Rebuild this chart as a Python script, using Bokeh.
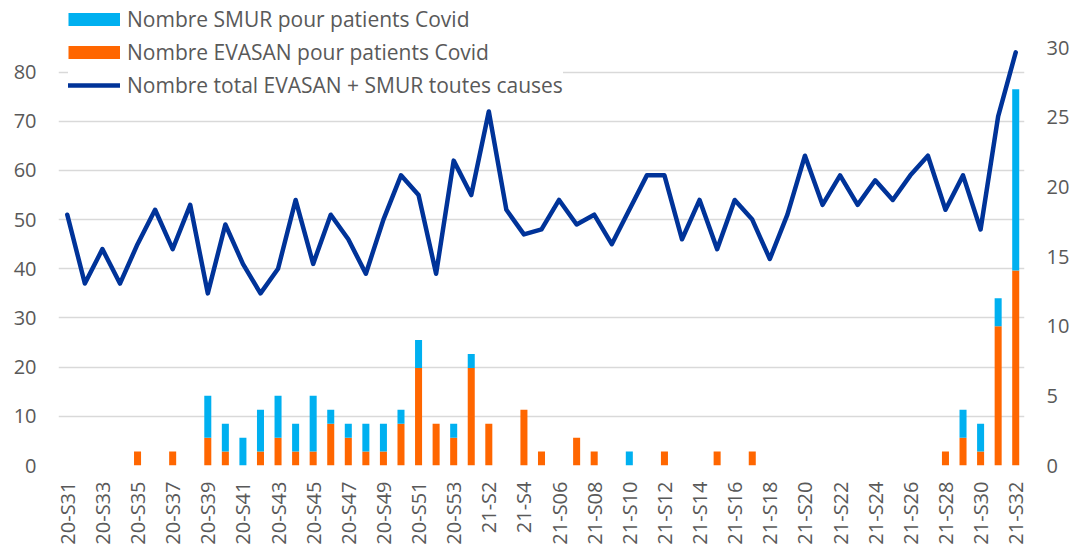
import math
from bokeh.plotting import figure
from bokeh.models import (ColumnDataSource, Range1d, LinearAxis, FixedTicker,
                          Legend, LegendItem)
from bokeh.embed import file_html
from bokeh.resources import INLINE

weeks = ["20-S31", "20-S32", "20-S33", "20-S34", "20-S35", "20-S36", "20-S37", "20-S38",
         "20-S39", "20-S40", "20-S41", "20-S42", "20-S43", "20-S44", "20-S45", "20-S46",
         "20-S47", "20-S48", "20-S49", "20-S50", "20-S51", "20-S52", "20-S53",
         "21-S1", "21-S2", "21-S3", "21-S4", "21-S5", "21-S06", "21-S07", "21-S08",
         "21-S09", "21-S10", "21-S11", "21-S12", "21-S13", "21-S14", "21-S15", "21-S16",
         "21-S17", "21-S18", "21-S19", "21-S20", "21-S21", "21-S22", "21-S23", "21-S24",
         "21-S25", "21-S26", "21-S27", "21-S28", "21-S29", "21-S30", "21-S31", "21-S32"]

evasan = [0, 0, 0, 0, 1, 0, 1, 0, 2, 1,
          0, 1, 2, 1, 1, 3, 2, 1, 1, 3,
          7, 3, 2, 7, 3, 0, 4, 1, 0, 2,
          1, 0, 0, 0, 1, 0, 0, 1, 0, 1,
          0, 0, 0, 0, 0, 0, 0, 0, 0, 0,
          1, 2, 1, 10, 14]

smur = [0, 0, 0, 0, 0, 0, 0, 0, 3, 2,
        2, 3, 3, 2, 4, 1, 1, 2, 2, 1,
        2, 0, 1, 1, 0, 0, 0, 0, 0, 0,
        0, 0, 1, 0, 0, 0, 0, 0, 0, 0,
        0, 0, 0, 0, 0, 0, 0, 0, 0, 0,
        0, 2, 2, 2, 13]

total = [51, 37, 44, 37, 45, 52, 44, 53, 35, 49,
         41, 35, 40, 54, 41, 51, 46, 39, 50, 59,
         55, 39, 62, 55, 72, 52, 47, 48, 54, 49,
         51, 45, 52, 59, 59, 46, 54, 44, 54, 50,
         42, 51, 63, 53, 59, 53, 58, 54, 59, 63,
         52, 59, 48, 71, 84]

left_ticks = [0, 10, 20, 30, 40, 50, 60, 70, 80]
right_ticks = [0, 5, 10, 15, 20, 25, 30]

label_smur = "Nombre SMUR pour patients Covid"
label_evasan = "Nombre EVASAN pour patients Covid"
label_total = "Nombre total EVASAN + SMUR toutes causes"

ORANGE = "#FF6600"
CYAN = "#00B0F0"
NAVY = "#003399"
TXT = "#595959"
GRID = "#D9D9D9"
FONT = "Open Sans"

# layout: chart area is 418px tall for 0..85 (left) / 0..30 (right);
# the frame is extended upward (460px) so the legend can sit above it
TOP_BORDER = 5
BOTTOM_BORDER = 85
HEIGHT = 550
FRAME_H = HEIGHT - TOP_BORDER - BOTTOM_BORDER
scale = FRAME_H / 418.0

xs = list(range(len(weeks)))
src = ColumnDataSource(dict(x=xs, evasan=evasan, smur=smur, total=total))

p = figure(width=1076, height=HEIGHT, output_backend="svg", toolbar_location=None,
           x_range=Range1d(-0.5, len(weeks) - 0.5), y_range=Range1d(0, 85 * scale),
           min_border_left=58, min_border_right=52, min_border_top=TOP_BORDER,
           min_border_bottom=BOTTOM_BORDER)
p.extra_y_ranges = {"right": Range1d(0, 30 * scale)}
p.outline_line_color = None
p.background_fill_color = "white"
p.border_fill_color = "white"

bars = p.vbar_stack(["evasan", "smur"], x="x", width=0.4, color=[ORANGE, CYAN],
                    line_color=None, source=src, y_range_name="right")
line = p.line("x", "total", source=src, line_width=4.5, line_color=NAVY,
              line_join="round", line_cap="round")

# legend swatch proxies (NaN -> nothing drawn in the plot, only legend glyphs)
proxy = ColumnDataSource(dict(x=[0], y=[float("nan")]))
sw_smur = p.line("x", "y", source=proxy, line_width=13, line_color=CYAN, line_cap="butt")
sw_evasan = p.line("x", "y", source=proxy, line_width=13, line_color=ORANGE, line_cap="butt")

# axes
p.xaxis.ticker = FixedTicker(ticks=xs[::2])
p.xaxis.major_label_overrides = {i: weeks[i] for i in xs[::2]}
p.xaxis.major_label_orientation = math.pi / 2
p.yaxis.ticker = FixedTicker(ticks=left_ticks)

ax_r = LinearAxis(y_range_name="right", ticker=FixedTicker(ticks=right_ticks))
p.add_layout(ax_r, "right")

for ax in [p.xaxis[0], p.yaxis[0], ax_r]:
    ax.axis_line_color = None
    ax.major_tick_line_color = None
    ax.minor_tick_line_color = None
    ax.major_tick_in = 0
    ax.major_tick_out = 0
    ax.major_label_text_font = FONT
    ax.major_label_text_font_size = "20px"
    ax.major_label_text_color = TXT
p.xaxis.major_label_standoff = 16
p.yaxis.major_label_standoff = 22
ax_r.major_label_standoff = 22

p.xgrid.grid_line_color = None
p.ygrid.grid_line_color = GRID
p.ygrid.grid_line_width = 1.5

legend = Legend(items=[LegendItem(label=label_smur, renderers=[sw_smur]),
                       LegendItem(label=label_evasan, renderers=[sw_evasan]),
                       LegendItem(label=label_total, renderers=[line])],
                location=(10, 365), orientation="vertical",
                glyph_width=52, glyph_height=30, label_height=30,
                label_standoff=7, spacing=3, padding=8, margin=0,
                label_text_font=FONT, label_text_font_size="21px",
                label_text_color=TXT, border_line_color=None,
                background_fill_color="white", background_fill_alpha=1.0)
p.add_layout(legend, "center")

open("out.html", "w").write(file_html(p, INLINE))
